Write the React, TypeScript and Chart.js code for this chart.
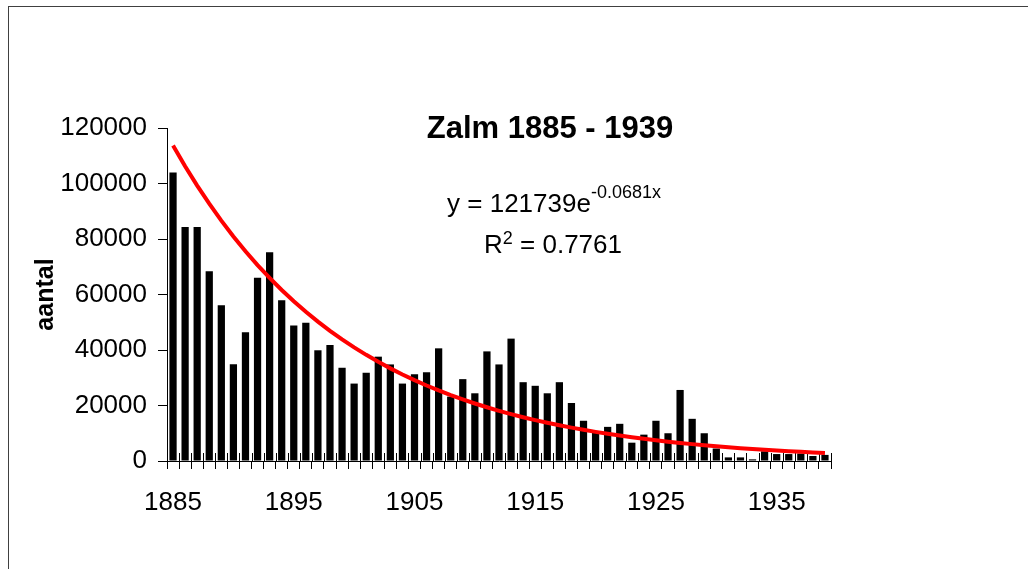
import React, { useEffect, useRef } from 'react';
import { Chart, registerables } from 'chart.js';

Chart.register(...registerables);

const FONT = '"Liberation Sans", Arial, Helvetica, sans-serif';

const years = [
  '1885', '1886', '1887', '1888', '1889', '1890', '1891', '1892', '1893', '1894',
  '1895', '1896', '1897', '1898', '1899', '1900', '1901', '1902', '1903', '1904',
  '1905', '1906', '1907', '1908', '1909', '1910', '1911', '1912', '1913', '1914',
  '1915', '1916', '1917', '1918', '1919', '1920', '1921', '1922', '1923', '1924',
  '1925', '1926', '1927', '1928', '1929', '1930', '1931', '1932', '1933', '1934',
  '1935', '1936', '1937', '1938', '1939',
];

const catches = [
  104000, 84300, 84300, 68400, 56100, 34900, 46400, 66000, 75200, 57900,
  48800, 49800, 39900, 41800, 33600, 27900, 31800, 37600, 34800, 27900,
  31300, 32000, 40600, 23200, 29500, 24400, 39500, 34800, 44100, 28400,
  27100, 24400, 28400, 20900, 14500, 10500, 12300, 13400, 6600, 9500,
  14500, 10000, 25600, 15200, 10000, 4500, 1300, 1300, 600, 3500,
  2500, 2500, 2700, 1800, 2200,
];

// exponential trendline values (y = 121739e^-0.0681x), as shown in the chart
const trend = [
  113725, 106238, 99244, 92710, 86607, 80905, 75579, 70603, 65955, 61613,
  57557, 53768, 50228, 46921, 43832, 40947, 38251, 35733, 33381, 31183,
  29130, 27212, 25421, 23747, 22184, 20724, 19359, 18085, 16894, 15782,
  14743, 13773, 12866, 12019, 11228, 10488, 9798, 9153, 8550, 7988,
  7462, 6970, 6512, 6083, 5682, 5308, 4959, 4632, 4327, 4043,
  3776, 3528, 3296, 3079, 2876,
];

const xLabelYears = ['1885', '1895', '1905', '1915', '1925', '1935'];
const yMin = 0;
const yMax = 120000;
const yStep = 20000;

const titleText = 'Zalm 1885 - 1939';
const eqMain = 'y = 121739e';
const eqSup = '-0.0681x';
const r2Main = 'R';
const r2Sup = '2';
const r2Tail = ' = 0.7761';
const yTitle = 'aantal';

function drawSup(
  ctx: CanvasRenderingContext2D,
  main: string,
  sup: string,
  tail: string,
  cx: number,
  baseline: number,
  supBaseline: number
) {
  const big = `26px ${FONT}`;
  const small = `18px ${FONT}`;
  ctx.font = big;
  const w1 = ctx.measureText(main).width;
  const w3 = tail ? ctx.measureText(tail).width : 0;
  ctx.font = small;
  const w2 = ctx.measureText(sup).width;
  let x = cx - (w1 + w2 + w3) / 2;
  ctx.textAlign = 'left';
  ctx.textBaseline = 'alphabetic';
  ctx.fillStyle = '#000';
  ctx.font = big;
  ctx.fillText(main, x, baseline);
  x += w1;
  ctx.font = small;
  ctx.fillText(sup, x, supBaseline);
  x += w2;
  if (tail) {
    ctx.font = big;
    ctx.fillText(tail, x, baseline);
  }
}

const decorPlugin = {
  id: 'decor',
  beforeDraw(chart: any) {
    const ctx = chart.ctx as CanvasRenderingContext2D;
    ctx.save();
    ctx.fillStyle = '#ffffff';
    ctx.fillRect(0, 0, chart.width, chart.height);
    ctx.strokeStyle = '#404040';
    ctx.lineWidth = 1;
    ctx.strokeRect(8.5, 6.5, chart.width + 40, chart.height + 40);
    ctx.restore();
  },
  beforeDatasetsDraw(chart: any) {
    const ctx = chart.ctx as CanvasRenderingContext2D;
    const xs = chart.scales.x;
    const area = chart.chartArea;
    const n = years.length;
    const half = (xs.getPixelForValue(1) - xs.getPixelForValue(0)) / 2;
    ctx.save();
    ctx.strokeStyle = '#000';
    ctx.lineWidth = 1;
    ctx.beginPath();
    for (let i = 0; i <= n; i++) {
      const px = Math.round(xs.getPixelForValue(Math.min(i, n - 1)) + (i === n ? half : -half)) + 0.5;
      ctx.moveTo(px, area.bottom - 8);
      ctx.lineTo(px, area.bottom);
    }
    ctx.stroke();
    ctx.restore();
  },
  afterDraw(chart: any) {
    const ctx = chart.ctx as CanvasRenderingContext2D;
    ctx.save();
    ctx.fillStyle = '#000';
    ctx.textAlign = 'center';
    ctx.textBaseline = 'alphabetic';
    ctx.font = `bold 31px ${FONT}`;
    ctx.fillText(titleText, 550, 138);
    drawSup(ctx, eqMain, eqSup, '', 554, 212, 198);
    drawSup(ctx, r2Main, r2Sup, r2Tail, 553, 253, 244);
    ctx.restore();
  },
};

export default function App() {
  const canvasRef = useRef<HTMLCanvasElement | null>(null);

  useEffect(() => {
    const canvas = canvasRef.current;
    if (!canvas) return;
    const chart = new Chart(canvas, {
      type: 'bar',
      data: {
        labels: years,
        datasets: [
          {
            type: 'line',
            label: 'trend',
            data: trend,
            borderColor: '#ff0000',
            borderWidth: 4,
            pointRadius: 0,
            tension: 0,
            fill: false,
            order: 0,
          } as any,
          {
            type: 'bar',
            label: 'aantal',
            data: catches,
            backgroundColor: '#000000',
            borderWidth: 0,
            barPercentage: 0.6,
            categoryPercentage: 1,
            order: 1,
          },
        ],
      },
      options: {
        responsive: false,
        animation: false,
        devicePixelRatio: 1,
        layout: { padding: { left: 0, top: 128, right: 197, bottom: 0 } },
        plugins: {
          legend: { display: false },
          tooltip: { enabled: false },
          title: { display: false },
        },
        scales: {
          x: {
            type: 'category',
            offset: true,
            afterFit: (s: any) => {
              s.height = 108;
            },
            grid: {
              display: true,
              offset: true,
              drawOnChartArea: false,
              drawTicks: true,
              tickLength: 8,
              color: '#000',
            },
            border: { display: true, color: '#000', width: 1 },
            ticks: {
              autoSkip: false,
              maxRotation: 0,
              minRotation: 0,
              padding: 18,
              color: '#000',
              font: { family: FONT, size: 26 },
              callback: (_v: any, i: number) =>
                xLabelYears.includes(years[i]) ? years[i] : '',
            },
          },
          y: {
            min: yMin,
            max: yMax,
            afterFit: (s: any) => {
              s.width = 167;
            },
            grid: {
              display: true,
              drawOnChartArea: false,
              drawTicks: true,
              tickLength: 9,
              color: '#000',
            },
            border: { display: true, color: '#000', width: 1 },
            ticks: {
              stepSize: yStep,
              padding: 11,
              color: '#000',
              font: { family: FONT, size: 26 },
              callback: (v: any) => String(v),
            },
            title: {
              display: true,
              text: yTitle,
              color: '#000',
              font: { family: FONT, size: 25, weight: 'bold' },
              padding: { top: 31, bottom: 0 },
            },
          },
        },
      },
      plugins: [decorPlugin],
    } as any);
    return () => chart.destroy();
  }, []);

  return (
    <canvas
      ref={canvasRef}
      width={1028}
      height={569}
      style={{ position: 'fixed', left: 0, top: 0, width: 1028, height: 569 }}
    />
  );
}
